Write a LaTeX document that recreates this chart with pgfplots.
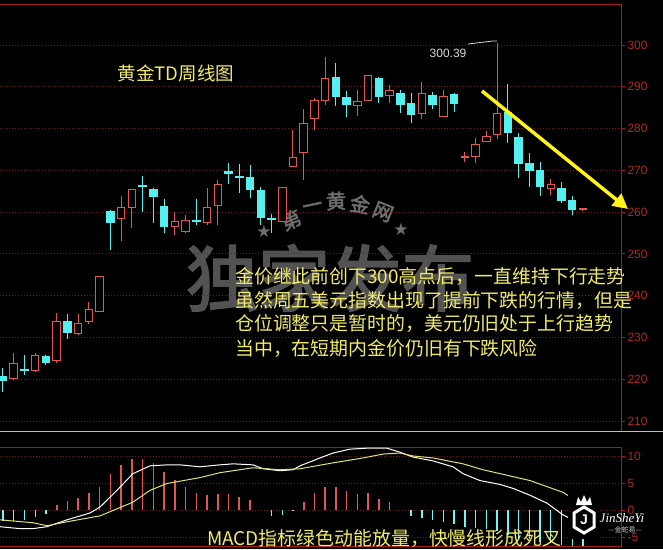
\documentclass[border=0pt]{standalone}
\usepackage{pgfplots}
\pgfplotsset{compat=1.18}
\usepackage{pgfplotstable}
\usepackage{fontspec}
\setmainfont{Liberation Sans}
\newfontfamily\cjk{Noto Sans CJK SC}
\newfontfamily\cjkb{Noto Sans CJK SC}[FakeBold=2.5]
\newfontfamily\djv{DejaVu Sans}
\newfontfamily\lserif{Liberation Serif}
\usetikzlibrary{arrows.meta}

\definecolor{upred}{RGB}{225,85,85}
\definecolor{dncyan}{RGB}{84,240,240}
\definecolor{axred}{RGB}{170,25,25}
\definecolor{gridred}{RGB}{115,25,25}
\definecolor{ticklbl}{RGB}{175,40,40}
\definecolor{txtyel}{RGB}{240,235,105}
\definecolor{deayel}{RGB}{225,225,120}
\definecolor{wm}{RGB}{82,82,82}
\definecolor{wm2}{RGB}{110,110,110}

% weekly candles, up (red, hollow)
\pgfplotstableread{
i  o     h      l     c
2  220.1 226.3  219.9 223.7
4  222.0 226.3  221.8 225.6
6  224.4 235.9  223.9 233.7
8  230.9 235.6  230.6 233.3
9  233.7 238.5  233.3 236.8
10 236.1 244.5  236.1 244.5
12 258.4 263.9  253.1 261.2
13 261.2 265.5  256.2 265.3
17 256.5 260.0  254.5 257.7
18 255.3 259.3  255.0 257.9
20 257.4 265.8  256.9 261.0
21 261.5 267.7  256.9 266.7
27 257.7 265.8  257.7 265.8
28 270.8 279.7  270.8 273.0
29 274.2 284.7  267.7 281.3
30 282.5 287.3  279.7 286.6
31 286.6 297.1  285.6 291.9
34 285.4 289.2  283.0 286.4
35 286.6 292.8  286.6 292.6
37 288.0 290.4  286.1 289.0
40 283.7 291.1  282.3 288.3
42 282.8 289.2  282.8 287.6
44 273.2 274.4  272.0 273.4
45 273.2 277.8  271.8 276.1
46 276.8 279.4  276.8 278.2
47 278.5 300.39 277.5 283.5
52 265.6 267.9  264.1 266.5
55 260.6 261.0  260.3 260.8
}\up

% down (cyan, filled)
\pgfplotstableread{
i  o     h     l     c
1  220.8 222.7 217.0 219.6
3  222.5 225.8 221.0 222.0
5  225.6 225.8 223.4 223.9
7  234.0 235.6 229.7 231.1
11 260.3 260.4 251.0 257.4
14 266.5 268.7 260.0 266.0
15 265.6 265.8 257.4 263.6
16 261.5 263.2 255.0 256.5
19 258.1 263.2 256.9 257.7
22 269.9 271.8 266.7 269.1
23 268.7 271.5 264.6 268.2
24 268.4 271.3 263.4 265.3
25 265.3 266.0 256.9 258.6
26 258.6 259.6 255.0 258.3
32 292.3 295.7 285.4 287.6
33 287.6 289.0 282.8 285.6
36 292.1 292.3 286.1 287.6
38 288.5 289.2 283.7 285.6
39 286.1 288.5 281.3 283.3
41 288.0 288.8 284.7 285.6
43 288.3 288.5 284.0 285.9
48 284.0 290.7 276.6 278.9
49 278.0 278.9 268.2 271.5
50 271.8 274.2 266.0 269.9
51 270.1 272.0 263.9 266.0
53 265.8 267.2 262.2 262.7
54 262.9 263.9 259.3 260.5
}\dn

% MACD histogram
\pgfplotstableread{
i v
6 1.0
7 1.7
8 2.3
9 3.2
10 4.3
11 6.6
12 8.3
13 9.5
14 9.5
15 8.7
16 7.0
17 5.5
18 4.3
19 3.2
20 2.7
21 2.9
22 2.9
23 2.5
24 1.9
29 1.5
30 3.1
31 4.3
32 4.2
33 3.5
34 3.0
35 3.1
36 2.1
37 1.5
}\histup

\pgfplotstableread{
i v
1 -2.1
2 -2.0
3 -1.8
4 -1.3
5 -0.7
26 -1.2
27 -1.0
28 -0.2
39 -1.2
40 -1.5
41 -1.8
42 -2.2
43 -2.5
44 -3.2
45 -3.3
46 -3.6
47 -3.9
48 -4.6
49 -5.1
50 -5.4
51 -6.0
52 -6.2
53 -6.5
54 -6.6
55 -6.6
}\histdn

\pgfplotsset{
  panel/.style={
    scale only axis, width=621pt, anchor=south west,
    xmin=0.7207, xmax=58.54,
    axis line style={draw=none},
    xtick=\empty, ytick pos=right, yticklabel pos=right,
    ymajorgrids, grid style={gridred, line width=0.8pt, dash pattern=on 1pt off 2pt},
    tick style={axred, line width=0.8pt}, major tick length=4pt, tick align=outside,
    yticklabel style={font=\fontsize{12}{12}\selectfont, text=ticklbl, xshift=-1pt},
    /pgf/number format/assume math mode=true,
    clip=false,
  },
}

\begin{document}
\begin{tikzpicture}
\fill[black] (0,0) rectangle (663pt,549pt);

% watermarks
\node[text=wm] at (330pt,271pt) {\cjkb\fontsize{72}{72}\selectfont 独家发布};
\begin{scope}[text=wm2]
\node[rotate=22] at (291pt,329pt) {\cjkb\fontsize{20}{20}\selectfont 第};
\node[rotate=12] at (313pt,341pt) {\cjkb\fontsize{20}{20}\selectfont 一};
\node[rotate=2] at (336pt,348pt) {\cjkb\fontsize{20}{20}\selectfont 黄};
\node[rotate=-10] at (360pt,345pt) {\cjkb\fontsize{20}{20}\selectfont 金};
\node[rotate=-22] at (383pt,337pt) {\cjkb\fontsize{20}{20}\selectfont 网};
\node at (264pt,318pt) {\djv\fontsize{17}{17}\selectfont ★};
\node at (401pt,320pt) {\djv\fontsize{17}{17}\selectfont ★};
\end{scope}

% price panel
\begin{axis}[panel, at={(0pt,118pt)}, height=426pt,
  ymin=207.61, ymax=309.57, ytick={210,220,...,300}]
\draw[axred, line width=1pt] (rel axis cs:0,1) -- (rel axis cs:1,1) -- (rel axis cs:1,0);
% up candles
\addplot[draw=none, mark=none, forget plot, error bars/.cd, y dir=both, y explicit, error mark=none,
  error bar style={draw=upred, line width=1pt}]
  table[x=i, y expr={(\thisrow{h}+\thisrow{l})/2}, y error expr={(\thisrow{h}-\thisrow{l})/2}] {\up};
\addplot[draw=none, mark=none, forget plot, error bars/.cd, y dir=both, y explicit, error mark=none,
  error bar style={draw=upred, line width=8.5pt}]
  table[x=i, y expr={(\thisrow{o}+\thisrow{c})/2}, y error expr={abs(\thisrow{o}-\thisrow{c})/2+0.12}] {\up};
\addplot[draw=none, mark=none, forget plot, error bars/.cd, y dir=both, y explicit, error mark=none,
  error bar style={draw=black, line width=6.5pt}]
  table[x=i, y expr={(\thisrow{o}+\thisrow{c})/2}, y error expr={max(abs(\thisrow{o}-\thisrow{c})/2-0.12,0)}] {\up};
% down candles
\addplot[draw=none, mark=none, forget plot, error bars/.cd, y dir=both, y explicit, error mark=none,
  error bar style={draw=dncyan, line width=1pt}]
  table[x=i, y expr={(\thisrow{h}+\thisrow{l})/2}, y error expr={(\thisrow{h}-\thisrow{l})/2}] {\dn};
\addplot[draw=none, mark=none, forget plot, error bars/.cd, y dir=both, y explicit, error mark=none,
  error bar style={draw=dncyan, line width=8.5pt}]
  table[x=i, y expr={(\thisrow{o}+\thisrow{c})/2}, y error expr={max(abs(\thisrow{o}-\thisrow{c})/2,0.25)}] {\dn};
\end{axis}

% separator
\draw[white!75!black, line width=1pt] (0,118pt) -- (663pt,118pt);

% MACD panel
\begin{axis}[panel, at={(0pt,3pt)}, height=99pt,
  ymin=-6.667, ymax=11.667, ytick={-5,0,5,10}]
\draw[axred, line width=1pt] (rel axis cs:0,1) -- (rel axis cs:1,1) -- (rel axis cs:1,0) -- (rel axis cs:0,0);
\addplot[ycomb, mark=none, upred, line width=1.6pt] table[x=i, y=v] {\histup};
\addplot[ycomb, mark=none, dncyan!80!white, line width=1.4pt] table[x=i, y=v] {\histdn};
% DIF
\addplot[white, line width=1pt, mark=none] coordinates {
(0.72,-3.09) (2.58,-3.45) (3.79,-3.45) (5.10,-3.09) (6.96,-1.82) (9.10,-0.55)
(10.03,0.55) (11.61,3.64) (13.10,6.73) (14.69,8.18) (16.27,8.36) (17.48,8.36)
(19.34,8.0) (21.20,8.36) (22.42,8.55) (24.28,8.36) (25.21,7.64) (26.79,7.27)
(28.0,7.45) (28.65,8.18) (30.52,9.64) (31.73,10.55) (33.31,11.27) (34.89,11.45)
(36.75,11.45) (37.96,10.7) (39.18,9.8) (41.04,9.09) (42.90,8.0) (43.83,6.73)
(45.41,5.45) (47.28,4.73) (48.49,4.0) (50.07,2.73) (51.65,1.27) (53.14,-0.91)
(54.07,-1.82) (55.0,-2.5)};
% DEA
\addplot[deayel, line width=1pt, mark=none] coordinates {
(0.72,-1.82) (3.79,-2.36) (5.10,-2.91) (6.96,-2.18) (10.03,-1.09) (13.10,1.45)
(14.69,3.64) (16.27,4.91) (19.34,6.0) (21.20,6.91) (24.28,7.82) (26.79,7.45)
(28.65,7.64) (31.73,8.73) (34.52,9.64) (36.38,10.36) (37.96,10.55) (39.18,10.0)
(41.04,9.64) (43.83,8.55) (45.7,7.45) (47.28,6.73) (50.07,5.45) (53.14,3.27)
(54.72,1.27) (55.0,1.1)};
\end{axis}

% annotations
\node[text=txtyel] at (176pt,476pt) {\cjk\fontsize{18.5}{20}\selectfont 黄金TD周线图};
\node[text=white!85!black] at (448pt,496pt) {\fontsize{12}{12}\selectfont 300.39};
\draw[white!85!black, line width=0.8pt] (468pt,505pt) -- (493pt,508pt) -- (497pt,508pt);
\draw[yellow!90!white, line width=3.5pt, -{Triangle[length=15pt,width=15pt]}] (482pt,458pt) -- (628pt,340pt);

\begin{scope}[text=txtyel, font=\cjk\fontsize{18.9}{20}\selectfont]
\node[anchor=west, inner sep=0pt] at (235pt,273pt) {金价继此前创下300高点后，一直维持下行走势};
\node[anchor=west, inner sep=0pt] at (235pt,249pt) {虽然周五美元指数出现了提前下跌的行情，但是};
\node[anchor=west, inner sep=0pt] at (235pt,225pt) {仓位调整只是暂时的，美元仍旧处于上行趋势};
\node[anchor=west, inner sep=0pt] at (235pt,201pt) {当中，在短期内金价仍旧有下跌风险};
\node[anchor=west, inner sep=0pt] at (207pt,10pt) {MACD指标绿色动能放量，快慢线形成死叉};
\end{scope}

% logo
\fill[black] (568pt,10pt) rectangle (600pt,56pt);
\draw[white, line width=3pt] (574pt,22pt) -- (574pt,36pt) -- (584pt,42pt) -- (594pt,36pt) -- (594pt,22pt) -- (584pt,16pt) -- cycle;
\node[text=white] at (584pt,29pt) {\fontsize{14}{14}\selectfont\bfseries J};
\fill[white] (576pt,44pt) -- (578pt,52pt) -- (581pt,47pt) -- (584pt,54pt) -- (587pt,47pt) -- (590pt,52pt) -- (592pt,44pt) -- cycle;
\node[text=white] at (622pt,31pt) {\lserif\itshape\fontsize{13}{13}\selectfont JinSheYi};
\node[text=white!80!black] at (625pt,19pt) {\cjk\fontsize{7}{7}\selectfont —金蛇易—};

\pgfresetboundingbox
\path[use as bounding box] (0,0) rectangle (663pt,549pt);
\end{tikzpicture}
\end{document}
